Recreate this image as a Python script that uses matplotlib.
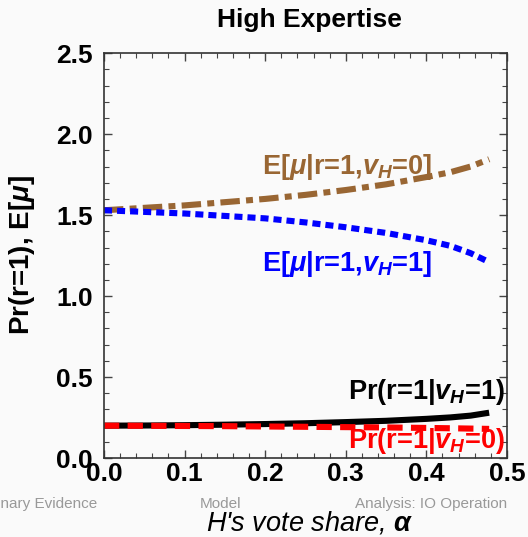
import numpy as np
import matplotlib
matplotlib.use("Agg")
import matplotlib.pyplot as plt
from matplotlib.ticker import MultipleLocator

plt.rcParams['font.family'] = ['Liberation Sans', 'DejaVu Sans']
plt.rcParams['mathtext.fontset'] = 'custom'
plt.rcParams['mathtext.rm'] = 'Liberation Sans:bold'
plt.rcParams['mathtext.it'] = 'Liberation Sans:italic:bold'
plt.rcParams['mathtext.bf'] = 'Liberation Sans:bold'
plt.rcParams['lines.scale_dashes'] = False

# valeurs
alpha = [0.0, 0.05, 0.1, 0.15, 0.2, 0.25, 0.3, 0.35, 0.4, 0.43, 0.455, 0.478]
e_mu_v0 = [1.53, 1.545, 1.56, 1.58, 1.60, 1.625, 1.655, 1.69, 1.735, 1.765, 1.80, 1.845]
e_mu_v1 = [1.53, 1.52, 1.51, 1.495, 1.48, 1.455, 1.425, 1.39, 1.345, 1.31, 1.265, 1.21]
pr_v1 = [0.20, 0.201, 0.203, 0.206, 0.21, 0.215, 0.222, 0.23, 0.242, 0.251, 0.262, 0.28]
pr_v0 = [0.20, 0.199, 0.198, 0.197, 0.195, 0.193, 0.191, 0.189, 0.186, 0.184, 0.182, 0.18]

bg = '#fafafa'
fig = plt.figure(figsize=(5.28, 5.37), dpi=100, facecolor=bg)
ax = fig.add_axes([0.197, 0.147, 0.763, 0.754], facecolor=bg)

lw = 4.4
ax.plot(alpha, e_mu_v0, color='#996633', lw=lw, dashes=[14, 4.5, 5, 4.5], solid_capstyle='butt', dash_capstyle='butt')
ax.plot(alpha, e_mu_v1, color='#0000ff', lw=lw, dashes=[5.8, 3.6], dash_capstyle='butt')
ax.plot(alpha, pr_v1, color='black', lw=lw, solid_capstyle='butt')
ax.plot(alpha, pr_v0, color='#ff0000', lw=lw, dashes=[11, 6], dash_capstyle='butt')

# étiquettes des courbes
lab = dict(fontsize=19.5, fontweight='bold', ha='left', va='center', clip_on=False)
ax.text(0.196, 1.80, r'E[$\mu$|r=1,$v_H$=0]', color='#996633', **lab)
ax.text(0.196, 1.20, r'E[$\mu$|r=1,$v_H$=1]', color='#0000ff', **lab)
ax.text(0.303, 0.41, r'Pr(r=1|$v_H$=1)', color='black', **lab)
ax.text(0.303, 0.105, r'Pr(r=1|$v_H$=0)', color='#ff0000', **lab)

ax.set_xlim(0, 0.5)
ax.set_ylim(0, 2.5)
ax.xaxis.set_major_locator(MultipleLocator(0.1))
ax.xaxis.set_minor_locator(MultipleLocator(0.02))
ax.yaxis.set_major_locator(MultipleLocator(0.5))
ax.yaxis.set_minor_locator(MultipleLocator(0.1))
ax.xaxis.set_major_formatter(plt.FormatStrFormatter('%.1f'))
ax.yaxis.set_major_formatter(plt.FormatStrFormatter('%.1f'))
ax.tick_params(which='both', direction='in', top=True, right=True, color='#444444')
ax.tick_params(which='major', length=6, width=1)
ax.tick_params(which='minor', length=3.5, width=0.8)
ax.tick_params(axis='x', which='major', pad=3)
ax.tick_params(axis='y', which='major', pad=8)
for t in ax.get_xticklabels() + ax.get_yticklabels():
    t.set_fontsize(19)
    t.set_fontweight('bold')
for s in ax.spines.values():
    s.set_color('#333333')
    s.set_linewidth(1.2)

fig.text(0.587, 0.962, 'High Expertise', fontsize=19, fontweight='bold', ha='center', va='center')
fig.text(0.042, 0.525, r'Pr(r=1), E[$\mu$]', rotation=90, fontsize=20, fontweight='bold',
         ha='center', va='center')
fig.text(0.587, 0.027, r"H's vote share, $\alpha$", fontsize=19.5, style='italic', ha='center', va='center')

# pied de page
foot = dict(fontsize=11, color='#999999', va='center')
fig.text(0.184, 0.061, 'Preliminary Evidence', ha='right', **foot)
fig.text(0.379, 0.061, 'Model', ha='left', **foot)
fig.text(0.96, 0.061, 'Analysis: IO Operation', ha='right', **foot)

fig.savefig('out.png', dpi=100, facecolor=bg)
